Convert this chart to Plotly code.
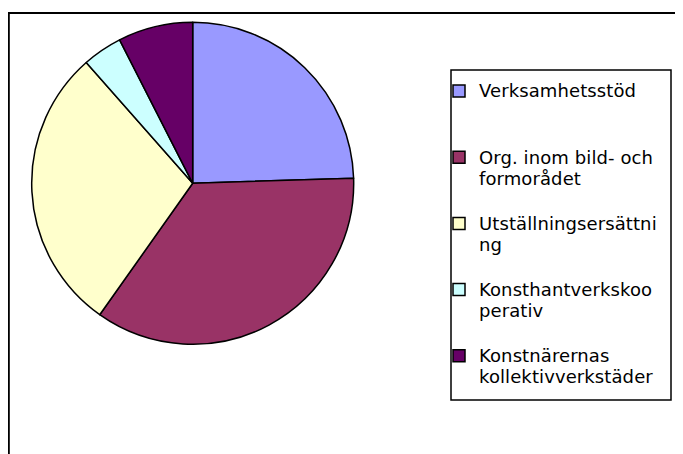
import plotly.graph_objects as go

# The page places the figure 8px from the top-left corner, so the figure is
# sized and positioned to compensate.
OX, OY = 8, 8
W, H = 683 - OX, 454 - OY

categories = [
    "Verksamhetsstöd",
    "Org. inom bild- och formorådet",
    "Utställningsersättning",
    "Konsthantverkskooperativ",
    "Konstnärernas kollektivverkstäder",
]
# legend text, wrapped as in the original legend
legend_lines = [
    ["Verksamhetsstöd", " "],
    ["Org. inom bild- och", "formorådet"],
    ["Utställningsersättni", "ng"],
    ["Konsthantverkskoo", "perativ"],
    ["Konstnärernas", "kollektivverkstäder"],
]
shares = [24.5, 35.3, 28.7, 4.0, 7.5]
colors = ["#9999FF", "#993366", "#FFFFCC", "#CCFFFF", "#660066"]

SPAN = "<span style='font-size:18px;letter-spacing:0.1px'>{}</span>"
legend_labels = ["<br>".join(SPAN.format(t) for t in lines) + "<br> "
                 for lines in legend_lines]

def px(x):
    return (x - OX) / W

def py(y):
    return 1 - (y - OY) / H

# pie geometry in page pixels
cx, cy, r = 192.7, 183.3, 161

fig = go.Figure(go.Pie(
    labels=legend_labels,
    values=shares,
    customdata=categories,
    hovertemplate="%{customdata}: %{percent}<extra></extra>",
    sort=False,
    direction="clockwise",
    rotation=0,
    textinfo="none",
    marker=dict(colors=colors, line=dict(color="black", width=1.5)),
    domain=dict(x=[px(cx - r), px(cx + r)],
                y=[py(cy + r), py(cy - r)]),
))

shapes = [
    # outer chart frame (only top & left visible)
    dict(type="rect", xref="paper", yref="paper",
         x0=px(8.8), x1=1.2, y0=-0.2, y1=py(13),
         line=dict(color="black", width=2), fillcolor="rgba(0,0,0,0)"),
    # legend frame
    dict(type="rect", xref="paper", yref="paper",
         x0=px(451), x1=px(671), y0=py(400), y1=py(70),
         line=dict(color="black", width=1.5), fillcolor="rgba(0,0,0,0)"),
]

fig.update_layout(
    width=W, height=H,
    margin=dict(l=0, r=0, t=0, b=0),
    paper_bgcolor="white",
    plot_bgcolor="white",
    shapes=shapes,
    showlegend=True,
    legend=dict(
        x=px(439), xanchor="left",
        y=py(74), yanchor="top",
        font=dict(family="DejaVu Sans", size=16.2, color="black"),
        bgcolor="rgba(0,0,0,0)",
        borderwidth=0,
        valign="top",
        traceorder="normal",
    ),
)

fig.write_html("out.html")
